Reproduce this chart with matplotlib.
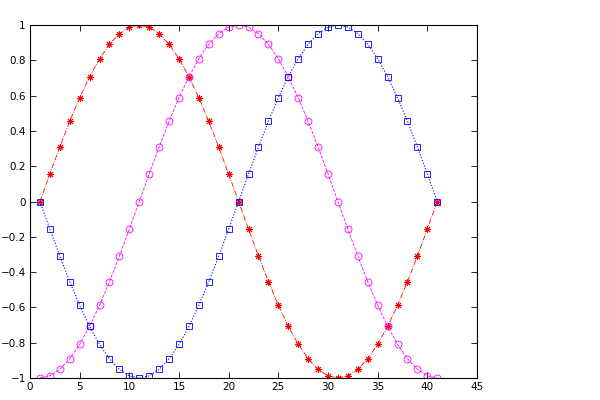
import matplotlib
matplotlib.use('Agg')
import matplotlib.pyplot as plt

x = list(range(1, 42))
red = [0, .156, .309, .454, .588, .707, .809, .891, .951, .988, 1,
       .988, .951, .891, .809, .707, .588, .454, .309, .156, 0,
       -.156, -.309, -.454, -.588, -.707, -.809, -.891, -.951, -.988, -1,
       -.988, -.951, -.891, -.809, -.707, -.588, -.454, -.309, -.156, 0]
magenta = [-1, -.988, -.951, -.891, -.809, -.707, -.588, -.454, -.309, -.156, 0,
           .156, .309, .454, .588, .707, .809, .891, .951, .988, 1,
           .988, .951, .891, .809, .707, .588, .454, .309, .156, 0,
           -.156, -.309, -.454, -.588, -.707, -.809, -.891, -.951, -.988, -1]
blue = [0, -.156, -.309, -.454, -.588, -.707, -.809, -.891, -.951, -.988, -1,
        -.988, -.951, -.891, -.809, -.707, -.588, -.454, -.309, -.156, 0,
        .156, .309, .454, .588, .707, .809, .891, .951, .988, 1,
        .988, .951, .891, .809, .707, .588, .454, .309, .156, 0]

xticks = [0, 5, 10, 15, 20, 25, 30, 35, 40, 45]
yticks = [-1, -0.8, -0.6, -0.4, -0.2, 0, 0.2, 0.4, 0.6, 0.8, 1]
ylabels = ['\u22121', '\u22120.8', '\u22120.6', '\u22120.4', '\u22120.2', '0',
           '0.2', '0.4', '0.6', '0.8', '1']

fig = plt.figure(figsize=(6, 4), dpi=100)
ax = fig.add_axes([0.05, 0.055, 0.745, 0.8825])

# asterisk like matlab '*': 8 spokes
ax.plot(x, red, color='red', linestyle='-.', linewidth=0.6,
        marker=(8, 2, 0), markersize=5, markeredgewidth=0.7)
ax.plot(x, magenta, color='magenta', linestyle='--', linewidth=0.6,
        marker='o', markersize=5, markerfacecolor='none', markeredgewidth=0.6)
ax.plot(x, blue, color='blue', linestyle=':', linewidth=0.8,
        marker='s', markersize=4.5, markerfacecolor='none', markeredgewidth=0.6)

ax.set_xlim(0, 45)
ax.set_ylim(-1, 1)
ax.set_xticks(xticks)
ax.set_xticklabels([str(t) for t in xticks])
ax.set_yticks(yticks)
ax.set_yticklabels(ylabels)
ax.tick_params(direction='in', top=True, right=True, length=4, width=0.6,
               labelsize=7.5, pad=3)
for s in ax.spines.values():
    s.set_linewidth(0.8)

fig.savefig('out.png', dpi=100)
